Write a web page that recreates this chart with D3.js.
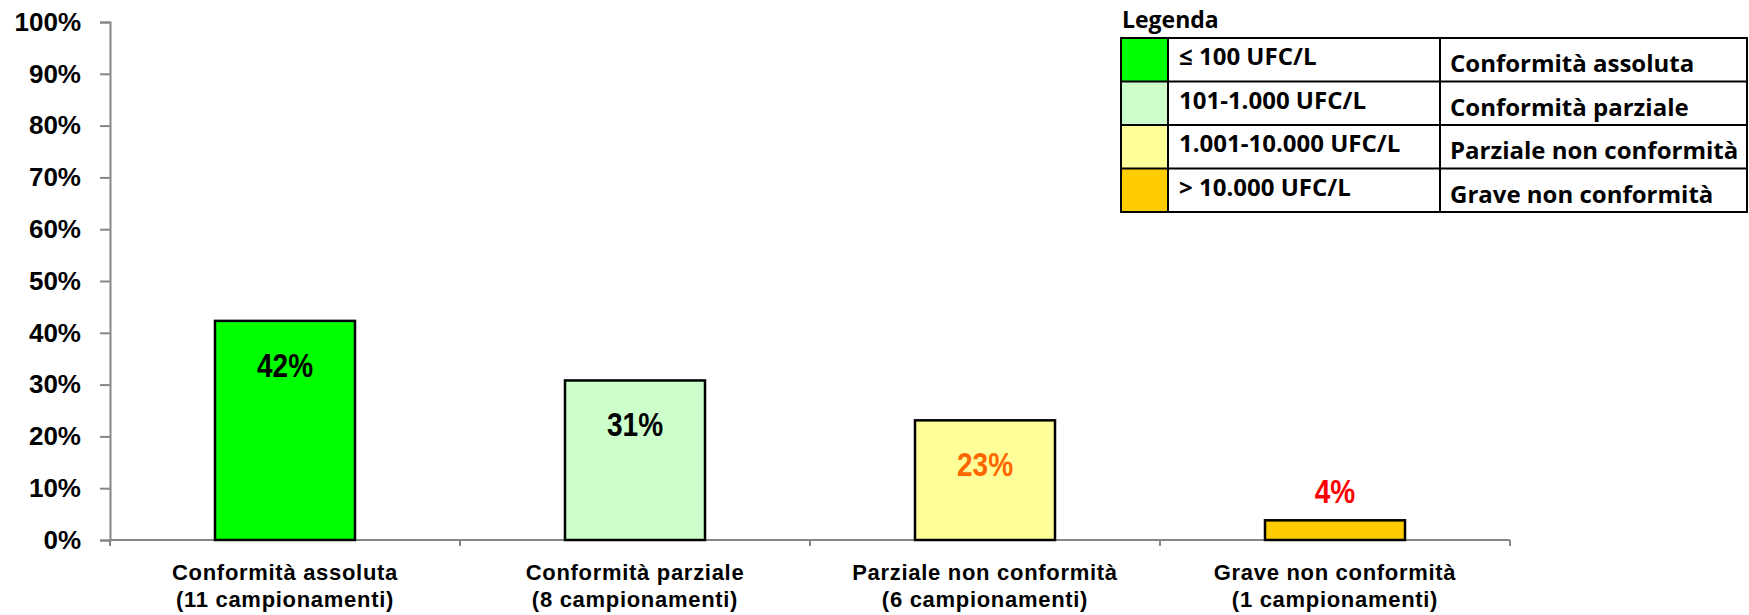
<!DOCTYPE html>
<html>
<head>
<meta charset="utf-8">
<script src="https://cdn.jsdelivr.net/npm/d3@7"></script>
<style>
  html, body { margin: 0; padding: 0; background: #fff; }
  svg { display: block; }
</style>
</head>
<body>
<svg id="chart" width="1749" height="615"></svg>
<script>
// ---- data ----
const categories = ["Conformità assoluta", "Conformità parziale", "Parziale non conformità", "Grave non conformità"];
const sampleLabels = ["(11 campionamenti)", "(8 campionamenti)", "(6 campionamenti)", "(1 campionamenti)"];
const values = [0.423, 0.308, 0.231, 0.038];
const valueLabels = ["42%", "31%", "23%", "4%"];
const barColors = ["#00FF00", "#CCFFCC", "#FFFF99", "#FFCC00"];
const labelColors = ["#000000", "#000000", "#FF6600", "#FF0000"];
const yTicks = [0, 0.1, 0.2, 0.3, 0.4, 0.5, 0.6, 0.7, 0.8, 0.9, 1.0];
const legendTitle = "Legenda";
const legendRanges = ["≤ 100 UFC/L", "101-1.000 UFC/L", "1.001-10.000 UFC/L", "> 10.000 UFC/L"];
const legendNames = ["Conformità assoluta", "Conformità parziale", "Parziale non conformità", "Grave non conformità"];

(function () {
// ---- layout ----
const svg = d3.select("#chart");
const pLeft = 110, pRight = 1510, pTop = 22, pBottom = 540;
const axisColor = "#868686";

const y = d3.scaleLinear().domain([0, 1]).range([pBottom, pTop]);
const x = d3.scaleBand().domain(categories).range([pLeft, pRight]).paddingInner(0.6).paddingOuter(0.3);

// y axis
const yAxis = d3.axisLeft(y).tickValues(yTicks).tickFormat(d3.format(".0%")).tickSize(10).tickPadding(19);
const gy = svg.append("g").attr("transform", `translate(${pLeft},0)`).call(yAxis);
gy.select(".domain").attr("stroke", axisColor).attr("stroke-width", 2);
gy.selectAll(".tick line").attr("stroke", axisColor).attr("stroke-width", 2);
gy.selectAll(".tick text")
  .attr("fill", "#000")
  .style("font-family", "'Liberation Sans', Arial, sans-serif")
  .style("font-weight", "bold")
  .style("font-size", "26px");

// x axis baseline with ticks on category boundaries
const boundaries = d3.range(categories.length + 1).map(i => pLeft + i * x.step());
const gx = svg.append("g");
gx.append("line").attr("x1", pLeft).attr("x2", pRight).attr("y1", pBottom).attr("y2", pBottom)
  .attr("stroke", axisColor).attr("stroke-width", 2);
gx.selectAll("line.tk").data(boundaries).enter().append("line").attr("class", "tk")
  .attr("x1", d => d).attr("x2", d => d).attr("y1", pBottom).attr("y2", pBottom + 6)
  .attr("stroke", axisColor).attr("stroke-width", 2);

// category labels
const catText = svg.append("g").selectAll("text").data(categories).enter().append("text")
  .attr("text-anchor", "middle")
  .attr("x", d => x(d) + x.bandwidth() / 2)
  .style("font-family", "'Liberation Sans', Arial, sans-serif")
  .style("font-weight", "bold")
  .style("font-size", "22px")
  .style("letter-spacing", "0.7px")
  .attr("fill", "#000");
catText.append("tspan").attr("x", d => x(d) + x.bandwidth() / 2).attr("y", 580).text(d => d);
catText.append("tspan").attr("x", d => x(d) + x.bandwidth() / 2).attr("y", 607).text((d, i) => sampleLabels[i]);

// bars
svg.append("g").selectAll("rect").data(values).enter().append("rect")
  .attr("x", (d, i) => x(categories[i]))
  .attr("width", x.bandwidth())
  .attr("y", d => y(d))
  .attr("height", d => pBottom - y(d))
  .attr("fill", (d, i) => barColors[i])
  .attr("stroke", "#000")
  .attr("stroke-width", 2.5);

// value labels (inside end, small bars above), slightly condensed
svg.append("g").selectAll("text").data(values).enter().append("text")
  .attr("text-anchor", "middle")
  .attr("transform", (d, i) => {
    const cx = x(categories[i]) + x.bandwidth() / 2;
    const ty = (pBottom - y(d)) > 60 ? y(d) + 56 : y(d) - 17;
    return `translate(${cx},${ty}) scale(0.85,1)`;
  })
  .attr("fill", (d, i) => labelColors[i])
  .style("font-family", "'Liberation Sans', Arial, sans-serif")
  .style("font-weight", "bold")
  .style("font-size", "33px")
  .text((d, i) => valueLabels[i]);

// legend
const lx0 = 1121, lx1 = 1168, lx2 = 1440, lx3 = 1747;
const ly0 = 38, rowH = 43.5;
const lg = svg.append("g");
lg.append("text").attr("x", 1122).attr("y", 28).text(legendTitle)
  .style("font-family", "'Open Sans', sans-serif").style("font-weight", "bold").style("font-size", "23px");
legendRanges.forEach((r, i) => {
  const ty = ly0 + i * rowH;
  lg.append("rect").attr("x", lx0).attr("y", ty).attr("width", lx1 - lx0).attr("height", rowH)
    .attr("fill", barColors[i]);
  lg.append("text").attr("x", 1179).attr("y", ty + 27).text(r)
    .style("font-family", "'Open Sans', sans-serif").style("font-weight", "bold").style("font-size", "24px");
  lg.append("text").attr("x", 1450).attr("y", ty + 34).text(legendNames[i])
    .style("font-family", "'Open Sans', sans-serif").style("font-weight", "bold").style("font-size", "24px");
});
const lb = ly0 + rowH * legendRanges.length;
d3.range(legendRanges.length + 1).forEach(i => {
  lg.append("line").attr("x1", lx0).attr("x2", lx3).attr("y1", ly0 + i * rowH).attr("y2", ly0 + i * rowH)
    .attr("stroke", "#000").attr("stroke-width", 2);
});
[lx0, lx1, lx2, lx3].forEach(xx => {
  lg.append("line").attr("x1", xx).attr("x2", xx).attr("y1", ly0 - 1).attr("y2", lb + 1)
    .attr("stroke", "#000").attr("stroke-width", 2);
});
})();
</script>
</body>
</html>
